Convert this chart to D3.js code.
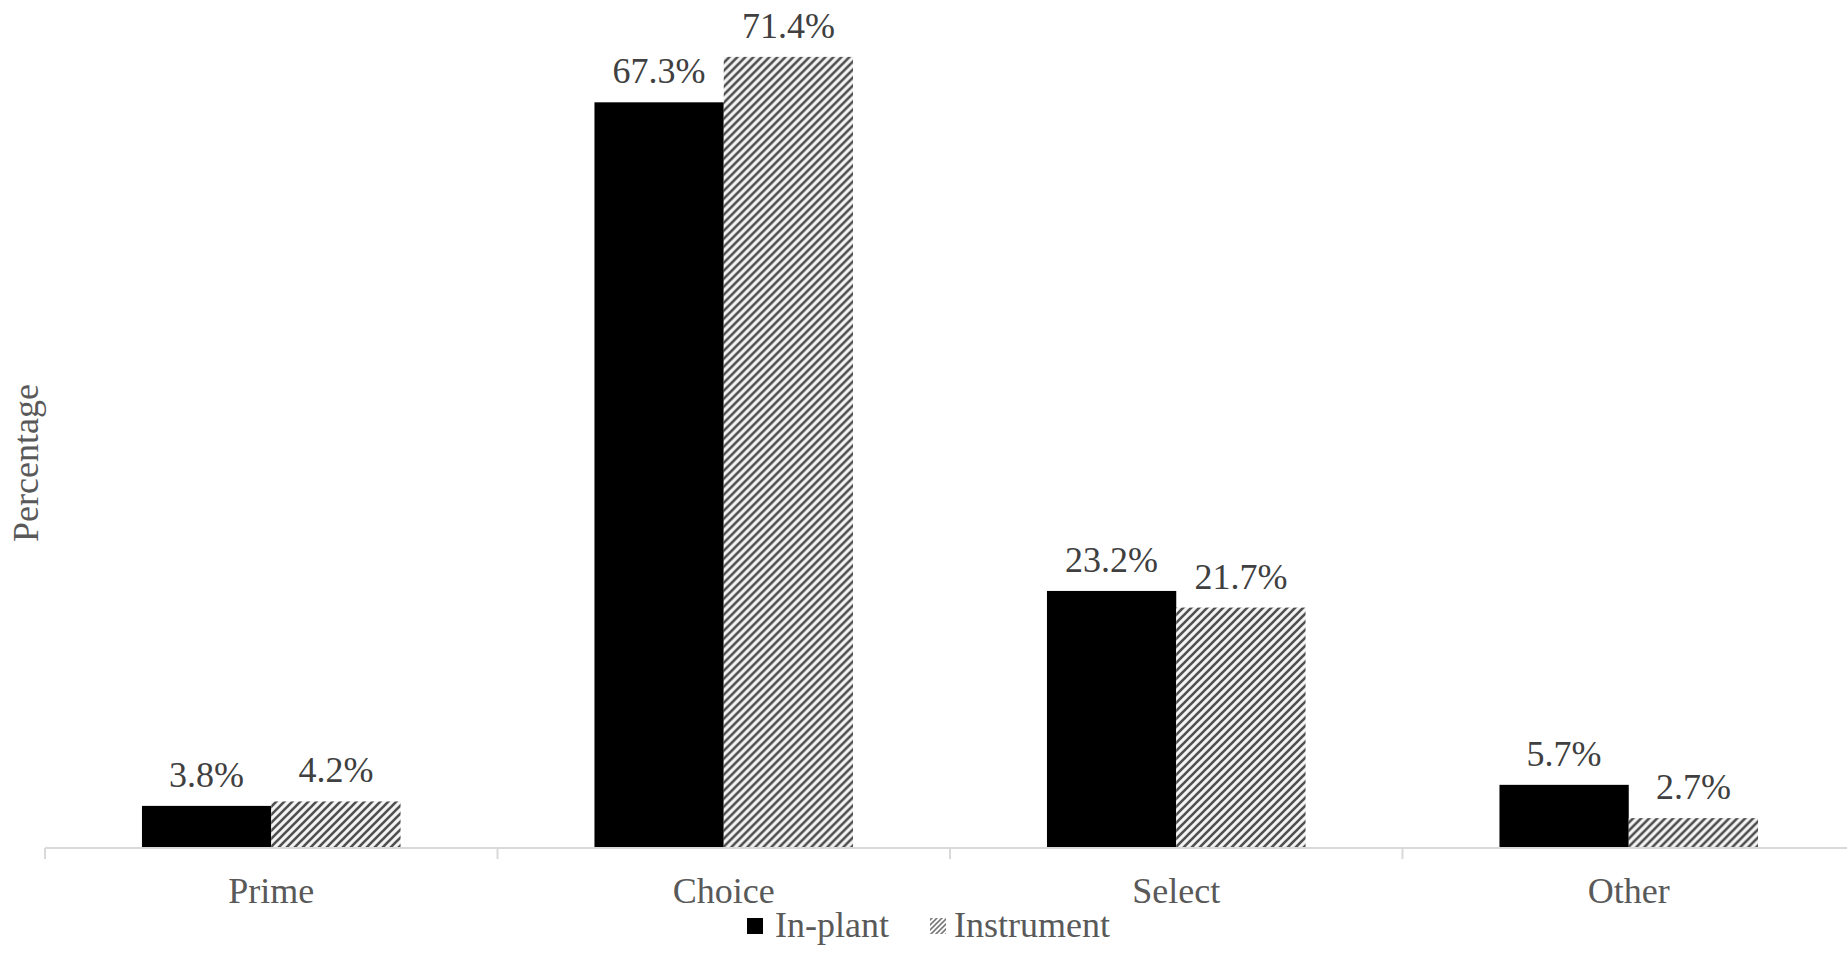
<!DOCTYPE html>
<html>
<head>
<meta charset="utf-8">
<script src="https://cdn.jsdelivr.net/npm/d3@7"></script>
<style>
  html, body { margin: 0; padding: 0; background: #fff; }
  svg { display: block; }
</style>
</head>
<body>
<svg id="chart" width="1847" height="980"></svg>
<script>
// Beef quality grade distribution by grading method
const categories = ["Prime", "Choice", "Select", "Other"];
const seriesNames = ["In-plant", "Instrument"];
const inPlant = [3.8, 67.3, 23.2, 5.7];
const instrument = [4.2, 71.4, 21.7, 2.7];
const yAxisTitle = "Percentage";

const FONT = "\"Liberation Serif\", \"Times New Roman\", serif";
const svg = d3.select("#chart").attr("font-family", FONT);
const W = 1847, H = 980;

// Diagonal hatch fill used for the Instrument series
const defs = svg.append("defs");
function hatch(id, size, stroke, sw, bg) {
  const p = defs.append("pattern")
    .attr("id", id)
    .attr("patternUnits", "userSpaceOnUse")
    .attr("width", size).attr("height", size);
  p.append("rect").attr("width", size).attr("height", size).attr("fill", bg);
  p.append("path")
    .attr("d", `M0,${size} L${size},0 M${-size/2},${size/2} L${size/2},${-size/2} M${size/2},${size*1.5} L${size*1.5},${size/2}`)
    .attr("stroke", stroke).attr("stroke-width", sw);
}
hatch("hatch", 8, "#4f4f4f", 2.6, "#f4f4f4");
hatch("hatchLegend", 5, "#7a7a7a", 1.6, "#ffffff");

const fills = ["#000000", "url(#hatch)"];
const data = categories.map((c, i) => ({ cat: c, values: [inPlant[i], instrument[i]] }));

const axisY = 848;
const x = d3.scaleBand().domain(categories).range([45, 1855]).paddingInner(0).paddingOuter(0);
const y = d3.scaleLinear().domain([0, 80]).range([axisY, axisY - 80 * 11.08]);

// Each bar is 1/3.5 of the category band (gap width 150%)
const barW = x.bandwidth() / 3.5;
const xs = d3.scaleBand().domain([0, 1]).range([0, barW * 2]);

const groups = svg.append("g").selectAll("g")
  .data(data).join("g")
  .attr("transform", d => `translate(${x(d.cat) + x.bandwidth() / 2 - barW},0)`);

groups.selectAll("rect")
  .data(d => d.values.map((v, k) => ({ v, k })))
  .join("rect")
  .attr("x", d => xs(d.k))
  .attr("y", d => y(d.v))
  .attr("width", xs.bandwidth())
  .attr("height", d => y(0) - y(d.v))
  .attr("fill", d => fills[d.k]);

groups.selectAll("text")
  .data(d => d.values.map((v, k) => ({ v, k })))
  .join("text")
  .attr("x", d => xs(d.k) + xs.bandwidth() / 2)
  .attr("y", d => y(d.v) - 19)
  .attr("text-anchor", "middle")
  .attr("font-family", FONT)
  .attr("font-size", 36)
  .attr("fill", "#404040")
  .text(d => d.v.toFixed(1) + "%");

// Category axis
const xAxis = d3.axisBottom(x)
  .tickSizeInner(0).tickSizeOuter(0).tickPadding(0);
const ax = svg.append("g").attr("transform", `translate(0,${axisY})`).call(xAxis);
ax.attr("font-family", FONT);
ax.select(".domain").remove();
ax.selectAll(".tick line").remove();
ax.append("line")
  .attr("x1", 45).attr("x2", W).attr("y1", 0).attr("y2", 0)
  .attr("stroke", "#d9d9d9").attr("stroke-width", 2);
// Category separators
const bounds = d3.range(categories.length + 1).map(i => x.range()[0] + i * x.step());
ax.selectAll(".sep").data(bounds).join("line")
  .attr("class", "sep")
  .attr("x1", d => d).attr("x2", d => d)
  .attr("y1", 0).attr("y2", 11)
  .attr("stroke", "#d9d9d9").attr("stroke-width", 2);
ax.selectAll(".tick text")
  .attr("y", 55).attr("dy", null)
  .attr("font-size", 36)
  .attr("font-family", FONT)
  .attr("fill", "#595959");

// Y axis title
svg.append("text")
  .attr("transform", `translate(38,463) rotate(-90)`)
  .attr("text-anchor", "middle")
  .attr("font-family", FONT)
  .attr("font-size", 36)
  .attr("fill", "#595959")
  .text(yAxisTitle);

// Legend
const legendItems = [
  { name: seriesNames[0], fill: "#000000", x: 747, tx: 775 },
  { name: seriesNames[1], fill: "url(#hatchLegend)", x: 930, tx: 954 }
];
const lg = svg.append("g");
lg.selectAll("rect").data(legendItems).join("rect")
  .attr("x", d => d.x).attr("y", 918)
  .attr("width", 16).attr("height", 16)
  .attr("fill", d => d.fill);
lg.selectAll("text").data(legendItems).join("text")
  .attr("x", d => d.tx).attr("y", 937)
  .attr("font-family", FONT)
  .attr("font-size", 36)
  .attr("fill", "#595959")
  .text(d => d.name);
</script>
</body>
</html>
